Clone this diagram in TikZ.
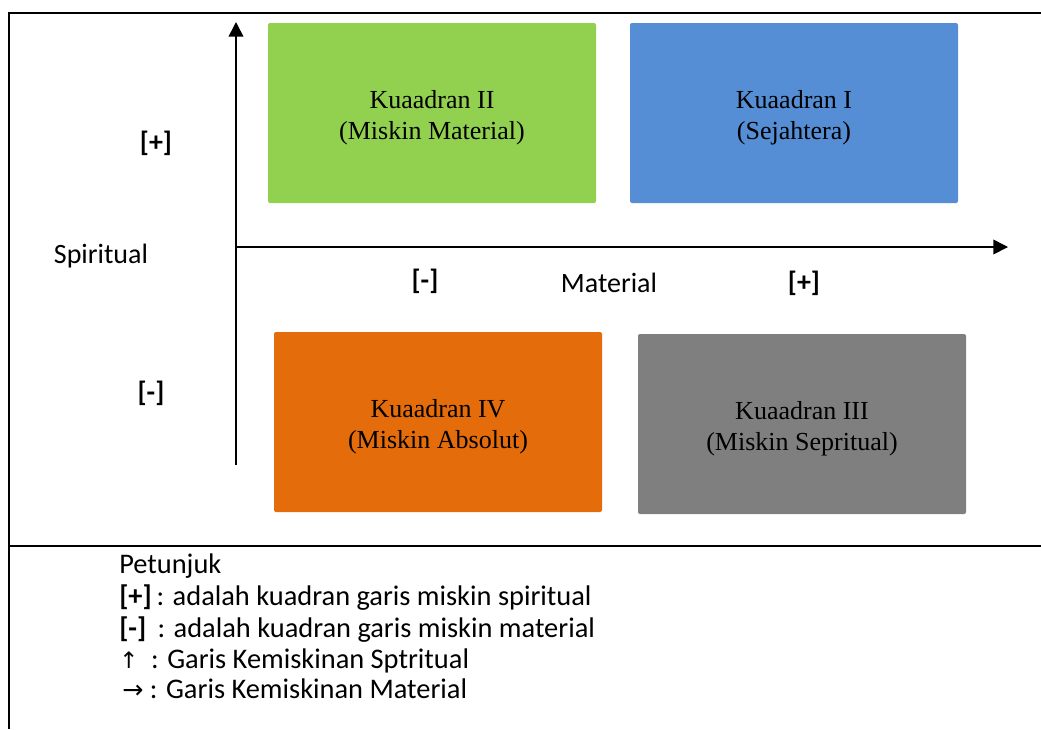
\documentclass[tikz,border=0pt]{standalone}
\usepackage{fontspec}
\setmainfont{Liberation Serif}
\newfontfamily\labelfont{Carlito}
\newfontfamily\arrowfont{DejaVu Sans}
\usetikzlibrary{arrows.meta}

\definecolor{kuadI}{HTML}{558ED5}
\definecolor{kuadII}{HTML}{92D050}
\definecolor{kuadIII}{HTML}{7F7F7F}
\definecolor{kuadIV}{HTML}{E46C0A}

\begin{document}
\begin{tikzpicture}[x=0.75pt,y=-0.75pt]
	\useasboundingbox (0,0) rectangle (1041,729);

	% frame
	\begin{scope}[line width=1.5pt]
		\draw (8,13) -- (1041,13);
		\draw (9,13) -- (9,729);
		\draw (8,546) -- (1041,546);
	\end{scope}

	\begin{scope}[every node/.style={rounded corners=1.5pt,minimum width=246pt,minimum height=135pt,align=center,font=\fontsize{19.5}{23.5}\selectfont}]
		\node [fill=kuadII] (K2) at (432,113) {\rule{0pt}{21pt}Kuaadran II\\(Miskin Material)};
		\node [fill=kuadI] (K1) at (794,113) {\rule{0pt}{21pt}Kuaadran I\\(Sejahtera)};
		\node [fill=kuadIV] (K4) at (438,422) {\rule{0pt}{21pt}Kuaadran IV\\(Miskin Absolut)};
		\node [fill=kuadIII] (K3) at (802,424) {\rule{0pt}{21pt}Kuaadran III\\(Miskin Sepritual)};
	\end{scope}

	% axes
	\coordinate (O) at (236,247);
	\coordinate (Ytop) at (236,22);
	\coordinate (Ybot) at (236,465);
	\coordinate (Xend) at (1008,247);
	\begin{scope}[line width=1.2pt,-{Triangle[length=11pt,width=11pt]}]
		\draw (Ybot) -- (Ytop);
		\draw (O) -- (Xend);
	\end{scope}

	\begin{scope}[every node/.style={font=\labelfont\fontsize{21}{25}\selectfont}]
		\node (sp) at (156,143) {\textbf{[+]}};
		\node (sm) at (151,393) {\textbf{[-]}};
		\node (spi) at (101,256) {Spiritual};
		\node (mm) at (425,281) {\textbf{[-]}};
		\node (mat) at (609,283) {Material};
		\node (mp) at (804,283) {\textbf{[+]}};
	\end{scope}

	% petunjuk
	\begin{scope}[every node/.style={anchor=base west,inner sep=0pt,font=\labelfont\fontsize{21.3}{25}\selectfont}]
		\node (leg1) at (119,573) {Petunjuk};
		\node (leg2) at (119,605) {\textbf{[+]}\,: adalah kuadran garis miskin spiritual};
		\node (leg3) at (119,637) {\textbf{[-]}\ \,: adalah kuadran garis miskin material};
		\node (leg4) at (119,668) {{\arrowfont\fontsize{17}{20}\selectfont ↑}\ \ : Garis Kemiskinan Sptritual};
		\node (leg5) at (122,698) {{\arrowfont\fontsize{19}{20}\selectfont →}\ : Garis Kemiskinan Material};
	\end{scope}
\end{tikzpicture}
\end{document}
